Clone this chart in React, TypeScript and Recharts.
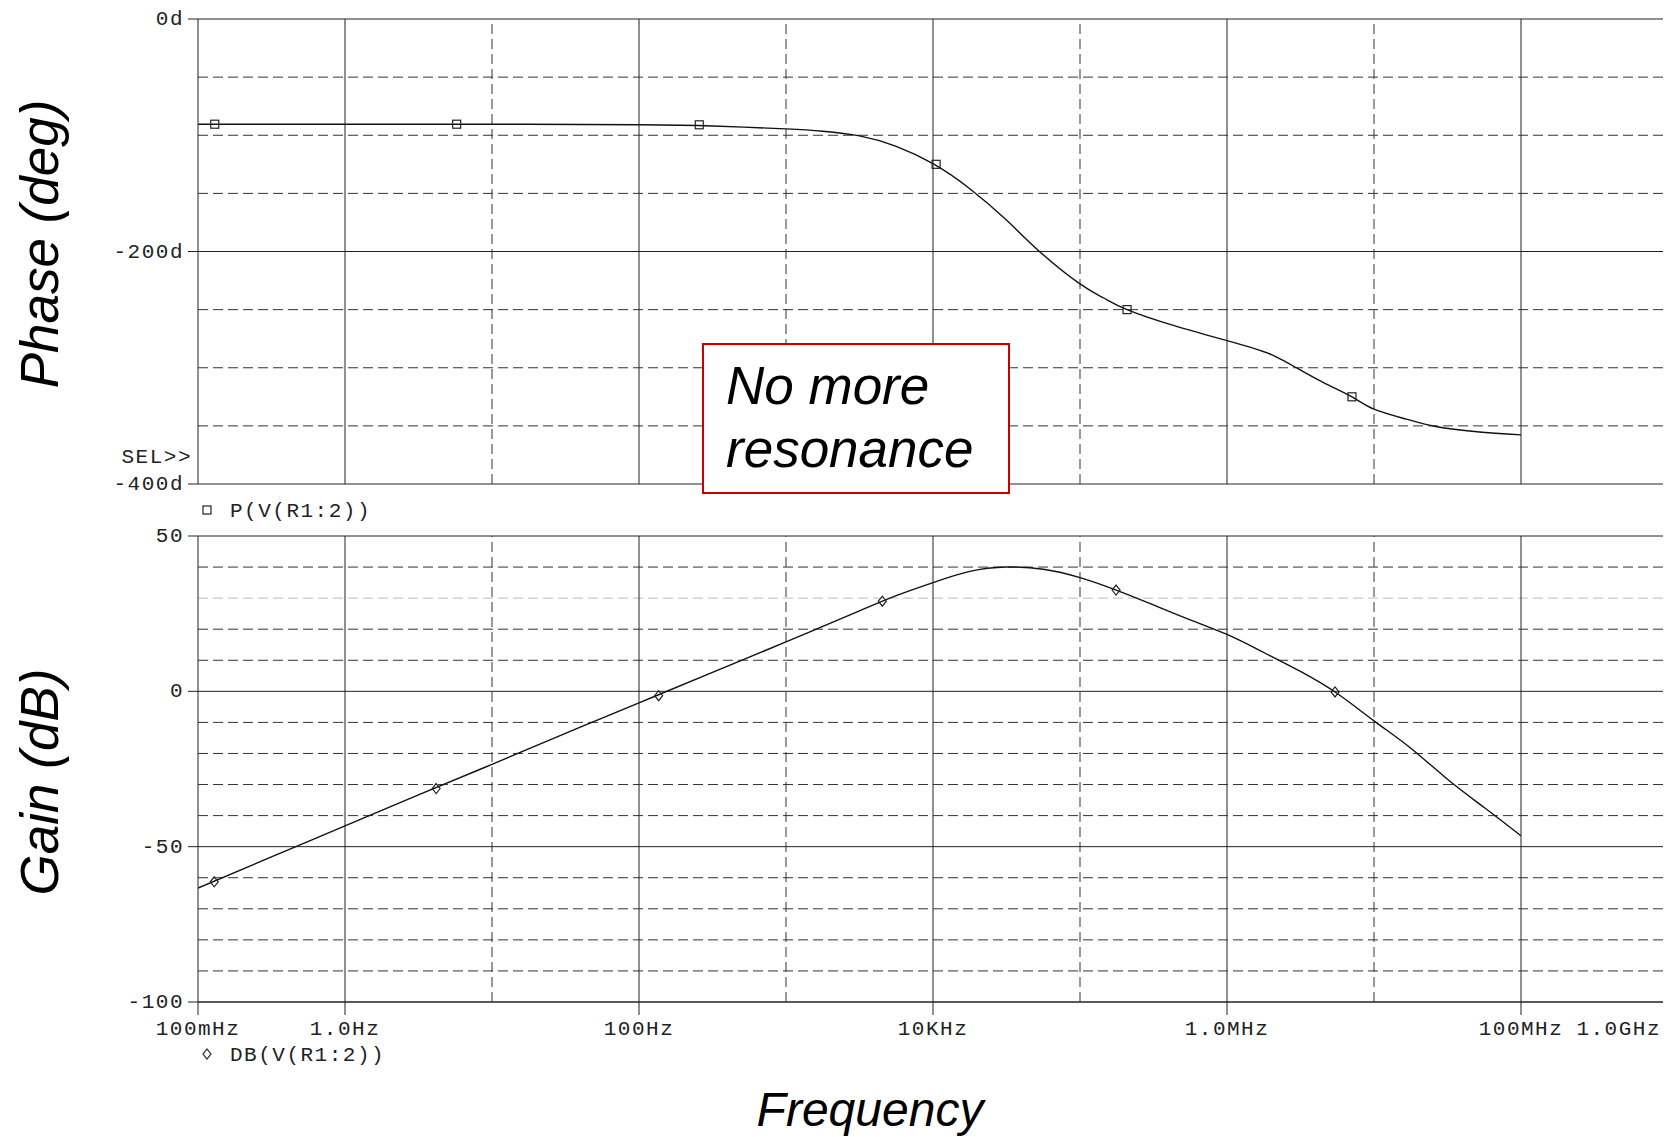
import React from 'react'
import { ComposedChart, Line, Scatter, XAxis, YAxis, ReferenceLine } from 'recharts'

// phase trace (Hz, degrees)
const phaseFreq = [
  0.1, 1, 10, 100, 316, 1000, 1780, 3160, 5620, 1e4, 1.78e4, 3.16e4, 5.37e4, 1e5, 1.45e5,
  2.09e5, 4.37e5, 1e6, 1.45e6, 2.09e6, 3.02e6, 4.57e6, 7.08e6, 1e7, 1.66e7, 2.63e7, 5.01e7, 1e8,
]
const phaseDeg = [
  -90.5, -90.5, -90.5, -91, -92, -94.5, -96.5, -100.5, -109.5, -124.5, -146, -173, -200.6,
  -227.9, -240, -250, -263.8, -276.7, -282.5, -289.7, -300.6, -313, -325, -335.6, -344.2,
  -350.5, -355, -357.7,
]

// gain trace (Hz, dB)
const gainFreq = [
  0.1, 0.316, 1, 3.16, 10, 31.6, 100, 316, 1000, 1780, 3160, 5620, 1e4, 1.78e4, 3.16e4,
  5.62e4, 1e5, 1.78e5, 3.16e5, 5.62e5, 1e6, 1.78e6, 3.16e6, 5.62e6, 1e7, 1.78e7, 3.16e7,
  5.62e7, 1e8,
]
const gainDb = [
  -63.3, -53.3, -43.3, -33.3, -23.5, -13.5, -3.7, 6.1, 15.9, 20.9, 25.9, 30.8, 35.0, 38.6,
  40.0, 39.3, 36.6, 32.5, 27.8, 23.0, 18.3, 12.5, 6.4, -0.7, -9.5, -18.3, -28.3, -37.4, -46.5,
]

// trace markers
const phaseMarkFreq = [0.13, 5.75, 257, 10500, 2.09e5, 7.08e6]
const phaseMarkDeg = [-90.5, -90.5, -91, -125, -250, -325]
const gainMarkFreq = [0.129, 4.17, 136, 4520, 1.76e5, 5.43e6]
const gainMarkDb = [-61.3, -31.3, -1.4, 29.0, 32.6, -0.2]

const freqTicks = [0.1, 1, 100, 1e4, 1e6, 1e8, 1e9]
const freqTickLabels = ['100mHz', '1.0Hz', '100Hz', '10KHz', '1.0MHz', '100MHz', '1.0GHz']
const freqMajorGrid = [1, 100, 1e4, 1e6, 1e8]
const freqMinorGrid = [10, 1e3, 1e5, 1e7]
const phaseTicks = [0, -200, -400]
const phaseMinorGrid = [-50, -100, -150, -250, -300, -350]
const gainTicks = [50, 0, -50, -100]
const gainMinorGrid = [40, 20, 10, -10, -20, -30, -40, -60, -70, -80, -90]
const gainFaintGrid = [30]

const phaseData = phaseFreq.map((f, i) => ({ f, v: phaseDeg[i] }))
const gainData = gainFreq.map((f, i) => ({ f, v: gainDb[i] }))
const phaseMarks = phaseMarkFreq.map((f, i) => ({ f, v: phaseMarkDeg[i] }))
const gainMarks = gainMarkFreq.map((f, i) => ({ f, v: gainMarkDb[i] }))

const MONO = '"Liberation Mono", "Courier New", monospace'
const SANS = '"Liberation Sans", Arial, sans-serif'
const INK = '#222'
const DASH = '10 5'

const monoText = { fontFamily: MONO, fontSize: 21, letterSpacing: 1.5, fill: INK }

const YTick = (suffix: string) => (props: any) => (
  <text x={props.x} y={props.y} dy={6} textAnchor="end" style={monoText}>
    {props.payload.value + suffix}
  </text>
)

const FreqTick = (props: any) => {
  const idx = freqTicks.indexOf(props.payload.value)
  const last = idx === freqTicks.length - 1
  return (
    <text x={last ? props.x - 7 : props.x} y={props.y} dy={20}
      textAnchor={last ? 'end' : 'middle'} style={monoText}>
      {freqTickLabels[idx]}
    </text>
  )
}

const SquareMark = (props: any) => (
  <rect x={props.cx - 4} y={props.cy - 4} width={8} height={8}
    fill="none" stroke={INK} strokeWidth={1.2} />
)

const DiamondMark = (props: any) => {
  const { cx, cy } = props
  return (
    <path d={`M${cx},${cy - 5}L${cx + 4},${cy}L${cx},${cy + 5}L${cx - 4},${cy}Z`}
      fill="none" stroke={INK} strokeWidth={1.2} />
  )
}

function gridLines(major: number[], minor: number[], axis: 'x' | 'y', faint: number[] = []) {
  return [
    ...minor.map((v) => (
      <ReferenceLine key={`${axis}m${v}`} {...{ [axis]: v }} stroke="#333" strokeDasharray={DASH} />
    )),
    ...faint.map((v) => (
      <ReferenceLine key={`${axis}f${v}`} {...{ [axis]: v }} stroke="#bbb" strokeDasharray={DASH} />
    )),
    ...major.map((v) => (
      <ReferenceLine key={`${axis}M${v}`} {...{ [axis]: v }} stroke={INK} />
    )),
  ]
}

export default function App() {
  return (
    <div style={{ position: 'absolute', left: 0, top: 0, width: 1663, height: 1137, overflow: 'hidden', background: '#fff' }}>
      <div style={{ position: 'absolute', left: 0, top: 0 }}>
        <ComposedChart width={1677} height={500} margin={{ top: 19, right: 9, left: 138, bottom: 16 }}>
          <XAxis dataKey="f" type="number" scale="log" domain={[0.1, 1e9]} allowDataOverflow
            ticks={freqTicks} hide />
          <YAxis dataKey="v" type="number" domain={[-400, 0]} ticks={phaseTicks} width={60}
            interval={0} axisLine={{ stroke: INK }} tickLine={{ stroke: INK }} tickSize={10}
            tickMargin={4} tick={YTick('d')} />
          {gridLines(phaseTicks, phaseMinorGrid, 'y')}
          {gridLines(freqMajorGrid, freqMinorGrid, 'x')}
          <Line data={phaseData} dataKey="v" type="natural" stroke="#111" strokeWidth={1.4}
            dot={false} isAnimationActive={false} />
          <Scatter data={phaseMarks} dataKey="v" shape={SquareMark} isAnimationActive={false} />
        </ComposedChart>
      </div>
      <div style={{ position: 'absolute', left: 0, top: 520 }}>
        <ComposedChart width={1677} height={617} margin={{ top: 16, right: 9, left: 138, bottom: 95 }}>
          <XAxis dataKey="f" type="number" scale="log" domain={[0.1, 1e9]} allowDataOverflow
            ticks={freqTicks} interval={0} height={40} axisLine={{ stroke: INK }}
            tickLine={{ stroke: INK }} tickSize={13} tickMargin={0} tick={FreqTick} />
          <YAxis dataKey="v" type="number" domain={[-100, 50]} ticks={gainTicks} width={60}
            interval={0} axisLine={{ stroke: INK }} tickLine={{ stroke: INK }} tickSize={10}
            tickMargin={4} tick={YTick('')} />
          {gridLines(gainTicks, gainMinorGrid, 'y', gainFaintGrid)}
          {gridLines(freqMajorGrid, freqMinorGrid, 'x')}
          <Line data={gainData} dataKey="v" type="natural" stroke="#111" strokeWidth={1.4}
            dot={false} isAnimationActive={false} />
          <Scatter data={gainMarks} dataKey="v" shape={DiamondMark} isAnimationActive={false} />
        </ComposedChart>
      </div>
      <svg width={1677} height={1137} style={{ position: 'absolute', left: 0, top: 0, pointerEvents: 'none' }}>
        <text x={192} y={463} textAnchor="end" style={monoText}>SEL&gt;&gt;</text>
        <rect x={203} y={506} width={8} height={8} fill="none" stroke={INK} strokeWidth={1.2} />
        <text x={230} y={517} style={monoText}>P(V(R1:2))</text>
        <path d="M207,1049L211,1054L207,1059L203,1054Z" fill="none" stroke={INK} strokeWidth={1.2} />
        <text x={230} y={1061} style={monoText}>DB(V(R1:2))</text>

        <text transform="translate(58,244) rotate(-90)" textAnchor="middle"
          fontFamily={SANS} fontStyle="italic" fontSize={53} fill="#000">Phase (deg)</text>
        <text transform="translate(58,782) rotate(-90)" textAnchor="middle"
          fontFamily={SANS} fontStyle="italic" fontSize={53} fill="#000">Gain (dB)</text>
        <text x={870} y={1126} textAnchor="middle"
          fontFamily={SANS} fontStyle="italic" fontSize={48} fill="#000">Frequency</text>

        <rect x={703} y={344} width={306} height={149} fill="#fff" stroke="#cc0000" strokeWidth={2} />
        <text x={726} y={404} fontFamily={SANS} fontStyle="italic" fontSize={53} fill="#000">No more</text>
        <text x={726} y={467} fontFamily={SANS} fontStyle="italic" fontSize={53} fill="#000">resonance</text>
      </svg>
    </div>
  )
}
